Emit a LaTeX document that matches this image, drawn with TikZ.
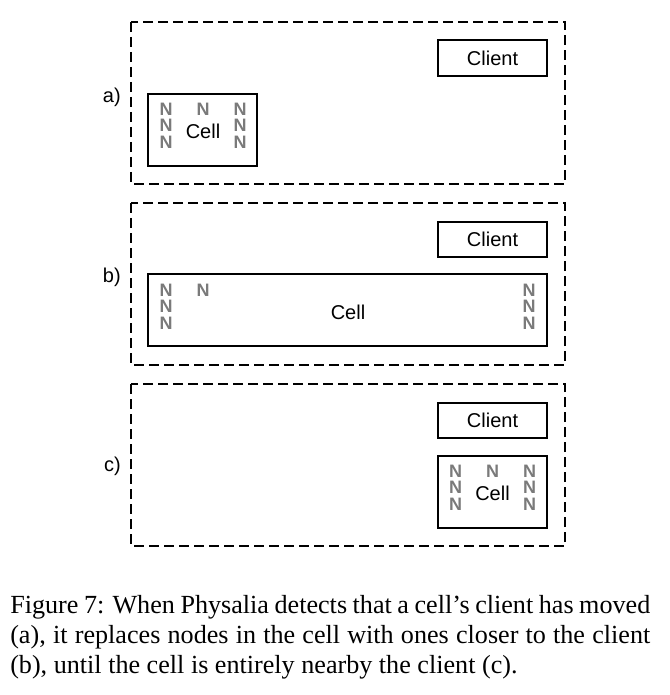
\documentclass[tikz,border=0pt]{standalone}
\usepackage{fontspec}
\setmainfont{Liberation Serif}
\newfontfamily\helv{Liberation Sans}
\newfontfamily\helvbold{Liberation Sans Bold}
\begin{document}
\begin{tikzpicture}[x=0.75pt,y=-0.75pt,
  frame/.style={draw=black,line width=1.1pt,dash pattern=on 7.5pt off 3.75pt},
  box/.style={draw=black,line width=1.1pt},
  lbl/.style={font=\helv\fontsize{15}{18}\selectfont,inner sep=0pt},
  nn/.style={font=\helvbold\fontsize{13.5}{15}\selectfont,text=black!52,inner sep=0pt},
  captext/.style={font=\fontsize{19.6}{24}\selectfont,inner sep=0pt,anchor=base west}]
\useasboundingbox (0,0) rectangle (670,695);
% frames
\draw[frame] (131,22) rectangle (565,184);
\draw[frame] (131,203) rectangle (565,365);
\draw[frame] (131,384) rectangle (565,546);
\node[lbl,anchor=east] (la) at (121,97) {a)};
\node[lbl,anchor=east] (lb) at (121,277) {b)};
\node[lbl,anchor=east] (lc) at (121,466) {c)};
% clients
\draw[box] (438,40) rectangle (547,76);
\node[lbl] (ca) at (492.5,58) {Client};
\draw[box] (438,222) rectangle (547,257);
\node[lbl] (cb) at (492.5,239.5) {Client};
\draw[box] (438,403) rectangle (547,438);
\node[lbl] (cc) at (492.5,420.5) {Client};
% cell a
\draw[box] (148,94) rectangle (257,166);
\node[lbl] (cella) at (203,131) {Cell};
\foreach \y [count=\i] in {109,125,142}{
  \node[nn] (na1\i) at (166,\y) {N};
  \node[nn] (na3\i) at (240,\y) {N};
}
\node[nn] (na21) at (203,109) {N};
% cell b
\draw[box] (148,274) rectangle (547,346);
\node[lbl] (cellb) at (348,312) {Cell};
\foreach \y [count=\i] in {290,306,323}{
  \node[nn] (nb1\i) at (166,\y) {N};
  \node[nn] (nb3\i) at (529,\y) {N};
}
\node[nn] (nb21) at (203,290) {N};
% cell c
\draw[box] (438,456) rectangle (547,528);
\node[lbl] (cellc) at (492.5,493) {Cell};
\foreach \y [count=\i] in {471,487,504}{
  \node[nn] (nc1\i) at (455.5,\y) {N};
  \node[nn] (nc3\i) at (529.5,\y) {N};
}
\node[nn] (nc21) at (492.5,471) {N};
% caption
\node[captext] (c1) at (10,613) {\makebox[480pt][s]{Figure 7: When Physalia detects that a cell’s client has moved}};
\node[captext] (c2) at (10,643) {\makebox[480pt][s]{(a), it replaces nodes in the cell with ones closer to the client}};
\node[captext] (c3) at (10,673) {(b), until the cell is entirely nearby the client (c).};
\end{tikzpicture}
\end{document}
